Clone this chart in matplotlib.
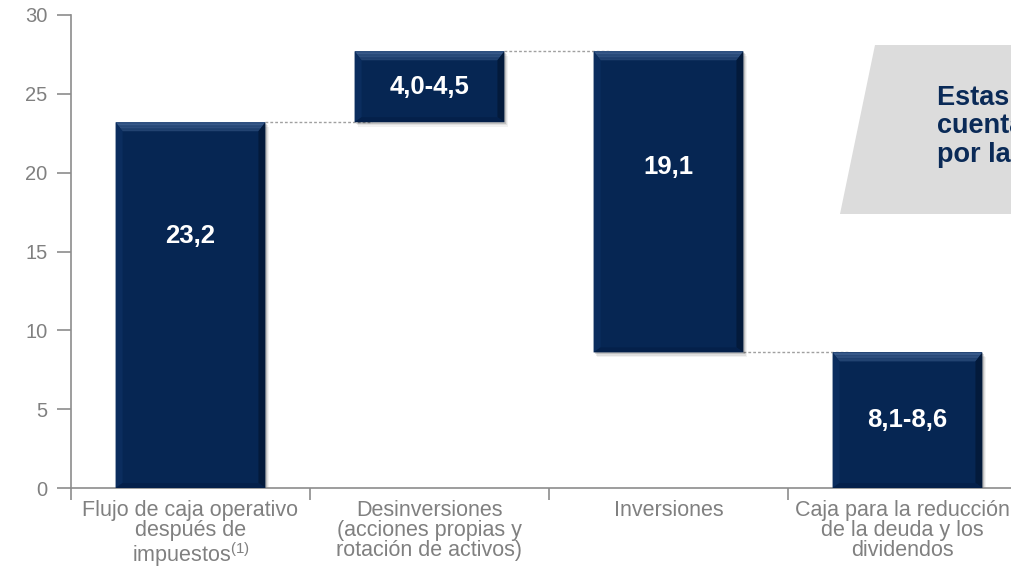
import matplotlib
matplotlib.use("Agg")
import matplotlib.pyplot as plt
from matplotlib.patches import Polygon, Rectangle
from matplotlib.transforms import ScaledTranslation
import numpy as np

plt.rcParams["font.family"] = ["Liberation Sans", "DejaVu Sans"]
plt.rcParams["mathtext.fontset"] = "custom"
plt.rcParams["mathtext.rm"] = "Liberation Sans"
plt.rcParams["mathtext.default"] = "regular"

# ---- data (miles de millones de euros) ----
categories = [
    "Flujo de caja operativo\ndespués de\nimpuestos$^{(1)}$",
    "Desinversiones\n(acciones propias y\nrotación de activos)",
    "Inversiones",
    "Caja para la reducción\nde la deuda y los\ndividendos",
]
kinds = ["total", "increase", "decrease", "total"]
values_low = [23.2, 4.0, 19.1, 8.1]
values_high = [23.2, 4.5, 19.1, 8.6]
value_labels = ["23,2", "4,0-4,5", "19,1", "8,1-8,6"]
y_ticks = [0, 5, 10, 15, 20, 25, 30]
callout_lines = ["Estas cifras no", "cuentan con", "por la venta"]

# ---- style ----
NAVY = "#062653"
NAVY_LIGHT = "#3d5f8f"
NAVY_DARK = "#031a3b"
GREY_AXIS = "#8c8c8c"
GREY_TEXT = "#808080"
label_pos = [0.69, 0.49, 0.615, 0.50]
bar_width = 0.627

# waterfall geometry from the values
bottoms, heights = [], []
running = 0.0
for kind, v in zip(kinds, values_high):
    if kind == "total":
        bottoms.append(0.0)
        heights.append(v)
        running = v
    elif kind == "increase":
        bottoms.append(running)
        heights.append(v)
        running += v
    else:
        running -= v
        bottoms.append(running)
        heights.append(v)

W, H, DPI = 1012, 579, 100
fig = plt.figure(figsize=(W / DPI, H / DPI), dpi=DPI)
ax_left, ax_right = 71 / W, 1027 / W
ax_bottom, ax_top = (H - 488) / H, (H - 15) / H
ax = fig.add_axes([ax_left, ax_bottom, ax_right - ax_left, ax_top - ax_bottom])
ax.set_xlim(0, len(categories))
ax.set_ylim(0, 30)

# pixel -> data conversion for bevels / shadows
px_x = (len(categories)) / ((ax_right - ax_left) * W)
px_y = 30 / ((ax_top - ax_bottom) * H)

centers = np.arange(len(categories)) + 0.5

# connector lines between consecutive bars
for i in range(len(categories) - 1):
    level = bottoms[i] + heights[i] if kinds[i] != "decrease" else bottoms[i]
    x0 = centers[i] + bar_width / 2
    x1 = centers[i + 1] - bar_width / 2 + 17 * px_x
    ax.plot([x0, x1], [level, level], color="#a0a0a0", lw=1.0,
            linestyle=(0, (2, 1.5)), zorder=1)

for c, b, h in zip(centers, bottoms, heights):
    x0, x1 = c - bar_width / 2, c + bar_width / 2
    y0, y1 = b, b + h
    # soft shadow
    for k, a in [(6, 0.05), (4, 0.08), (2, 0.14)]:
        ax.add_patch(Rectangle((x0 + k * px_x * 0.6, y0 - k * px_y * 0.8),
                               x1 - x0, y1 - y0, facecolor="#000000",
                               alpha=a, edgecolor="none", zorder=2))
    ax.add_patch(Rectangle((x0, y0), x1 - x0, y1 - y0, facecolor=NAVY,
                           edgecolor="none", zorder=3))
    bt = 9 * px_y
    bs = 7 * px_x
    bb = 5 * px_y
    # top bevel (lighter), split into bands for a gentle gradient
    nb = 6
    for j in range(nb):
        t0 = j / nb
        t1 = (j + 1) / nb
        ya, yb = y1 - bt * t0, y1 - bt * t1
        xa0, xb0 = x0 + bs * t0, x0 + bs * t1
        xa1, xb1 = x1 - bs * t0, x1 - bs * t1
        col = np.array(matplotlib.colors.to_rgb(NAVY_LIGHT)) * (1 - t0 * 0.6) + \
              np.array(matplotlib.colors.to_rgb(NAVY)) * (t0 * 0.6)
        ax.add_patch(Polygon([[xa0, ya], [xa1, ya], [xb1, yb], [xb0, yb]],
                             closed=True, facecolor=col, edgecolor="none",
                             zorder=4))
    # left bevel
    ax.add_patch(Polygon([[x0, y1], [x0 + bs, y1 - bt], [x0 + bs, y0 + bb], [x0, y0]],
                         closed=True, facecolor="#0b2d5e", edgecolor="none", zorder=4))
    # right bevel
    ax.add_patch(Polygon([[x1, y1], [x1 - bs, y1 - bt], [x1 - bs, y0 + bb], [x1, y0]],
                         closed=True, facecolor=NAVY_DARK, edgecolor="none", zorder=4))
    # bottom bevel
    ax.add_patch(Polygon([[x0, y0], [x0 + bs, y0 + bb], [x1 - bs, y0 + bb], [x1, y0]],
                         closed=True, facecolor="#04204a", edgecolor="none", zorder=4))

for c, b, h, lab, f in zip(centers, bottoms, heights, value_labels, label_pos):
    ax.text(c, b + h * f, lab, ha="center", va="center", color="white",
            fontsize=18.5, fontweight="bold", zorder=6)

# axes styling
for side in ["top", "right"]:
    ax.spines[side].set_visible(False)
for side in ["left", "bottom"]:
    ax.spines[side].set_color(GREY_AXIS)
    ax.spines[side].set_linewidth(1.2)
ax.set_yticks(y_ticks)
ax.set_yticklabels([str(t) for t in y_ticks])
ax.tick_params(axis="y", direction="out", length=10, width=1.2, color=GREY_AXIS,
               labelcolor=GREY_TEXT, labelsize=14.5, pad=7)
ax.set_xticks(np.arange(len(categories) + 1))
ax.set_xticklabels([])
ax.tick_params(axis="x", which="major", direction="out", length=8.5, width=1.2,
               color=GREY_AXIS)
ax.set_xticks(centers, minor=True)
ax.set_xticklabels(categories, minor=True)
ax.tick_params(axis="x", which="minor", length=0, pad=8.5, labelsize=15.5,
               labelcolor=GREY_TEXT)
minor_labels = ax.get_xticklabels(minor=True)
for t in minor_labels:
    t.set_linespacing(0.95)
# nudge the last category label slightly left so it stays on the page
last = minor_labels[-1]
last.set_transform(last.get_transform() + ScaledTranslation(-5 / DPI, 0, fig.dpi_scale_trans))

# callout panel on the right
fig.patches.append(Polygon([[875 / W, (H - 45) / H], [1.05, (H - 45) / H],
                            [1.05, (H - 214) / H], [840 / W, (H - 214) / H]],
                           closed=True, transform=fig.transFigure,
                           facecolor="#dcdcdc", edgecolor="none", zorder=0))
fig.text(937 / W, (H - 85) / H, "\n".join(callout_lines), ha="left", va="top",
         color="#0a2a57", fontsize=19.5, fontweight="bold", linespacing=1.12)

fig.savefig("out.png", dpi=DPI)
